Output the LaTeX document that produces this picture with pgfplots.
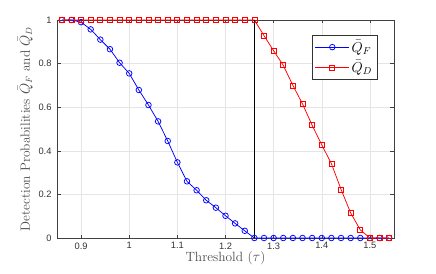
\documentclass[border=0pt]{standalone}
\usepackage{pgfplots}
\pgfplotsset{compat=1.18}
\usepackage{fontspec}
\newfontfamily\tickfont{Liberation Sans}
\begin{document}
\begin{tikzpicture}
\begin{axis}[
  at={(0,0)}, anchor=south west,
  scale only axis,
  width=337pt, height=218pt,
  xmin=0.85, xmax=1.55, ymin=0, ymax=1,
  xtick={0.9,1,1.1,1.2,1.3,1.4,1.5},
  ytick={0,0.2,0.4,0.6,0.8,1},
  xticklabels={0.9,1,1.1,1.2,1.3,1.4,1.5},
  yticklabels={0,0.2,0.4,0.6,0.8,1},
  tick label style={font=\tickfont\fontsize{9.3}{11}\selectfont, text=black!80},
  xticklabel style={yshift=-1pt},
  yticklabel style={xshift=-2pt},
  grid=major,
  major grid style={gray!20, line width=0.5pt},
  axis line style={black!75, line width=0.5pt},
  tick style={black!75, line width=0.5pt},
  tick align=inside,
  major tick length=3.5pt,
  xlabel={Threshold ($\tau$)},
  ylabel={Detection Probabilities $\bar{Q}_F$ and $\bar{Q}_D$},
  label style={font=\fontsize{13.4}{15}\selectfont, text=black!70},
  xlabel style={yshift=5pt},
  ylabel style={yshift=-1pt},
  legend style={at={(rel axis cs:0.95,0.93)}, anchor=north east,
    draw=black!80, line width=0.5pt, font=\fontsize{14}{16}\selectfont,
    cells={anchor=west}, inner xsep=3pt, inner ysep=3pt, row sep=3pt},
  legend image code/.code={\draw[mark repeat=2,mark phase=2] plot coordinates {(0pt,0pt)(17pt,0pt)(34pt,0pt)};},
  legend cell align=left,
  clip=false,
]
\addplot[blue, line width=0.75pt, mark=o, mark size=2.8pt, mark options={line width=0.75pt}] coordinates {
(0.86,1)(0.88,1)(0.90,0.99)(0.92,0.957)(0.94,0.91)(0.96,0.866)(0.98,0.804)
(1.00,0.755)(1.02,0.679)(1.04,0.61)(1.06,0.535)(1.08,0.445)(1.10,0.347)
(1.12,0.26)(1.14,0.219)(1.16,0.173)(1.18,0.139)(1.20,0.102)(1.22,0.067)
(1.24,0.033)(1.26,0)(1.28,0)(1.30,0)(1.32,0)(1.34,0)(1.36,0)(1.38,0)
(1.40,0)(1.42,0)(1.44,0)(1.46,0)(1.48,0)(1.50,0)(1.52,0)(1.54,0)
};
\addlegendentry{$\bar{Q}_F$}
\addplot[red, line width=0.75pt, mark=square, mark size=2.5pt, mark options={line width=0.75pt}] coordinates {
(0.86,1)(0.88,1)(0.90,1)(0.92,1)(0.94,1)(0.96,1)(0.98,1)
(1.00,1)(1.02,1)(1.04,1)(1.06,1)(1.08,1)(1.10,1)
(1.12,1)(1.14,1)(1.16,1)(1.18,1)(1.20,1)(1.22,1)
(1.24,1)(1.26,1)(1.28,0.928)(1.30,0.859)(1.32,0.792)(1.34,0.70)(1.36,0.615)(1.38,0.517)
(1.40,0.427)(1.42,0.341)(1.44,0.223)(1.46,0.115)(1.48,0.037)(1.50,0)(1.52,0)(1.54,0)
};
\addlegendentry{$\bar{Q}_D$}
\addplot[black, line width=0.75pt, forget plot] coordinates {(1.26,0)(1.26,1)};
\end{axis}
\useasboundingbox (-57pt,-35pt) rectangle (379pt,238pt);
\end{tikzpicture}
\end{document}
